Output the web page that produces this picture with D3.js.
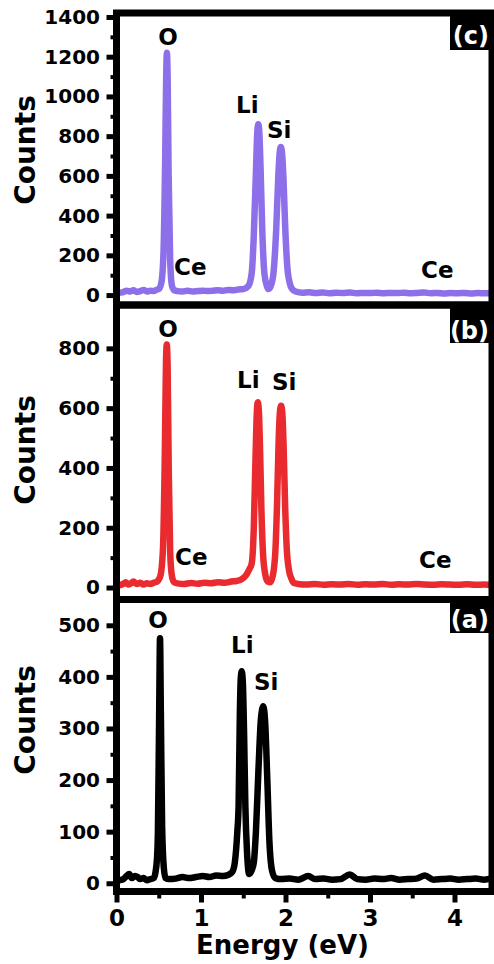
<!DOCTYPE html>
<html>
<head>
<meta charset="utf-8">
<script src="https://cdn.jsdelivr.net/npm/d3@7"></script>
<style>
  body { margin: 0; background: #fff; }
  svg { display: block; font-family: "DejaVu Sans", sans-serif; font-weight: bold; }
</style>
</head>
<body>
<div id="chart"></div>
<script>
// Spectrum (c) - purple
const energyC = [0.00, 0.04, 0.08, 0.12, 0.16, 0.20, 0.24, 0.28, 0.32, 0.36, 0.40, 0.44, 0.48, 0.50, 0.53, 0.555, 0.575, 0.588, 0.596, 0.605, 0.617, 0.635, 0.655, 0.68,
  0.72, 0.78, 0.84, 0.90, 0.96, 1.02, 1.08, 1.14, 1.20, 1.26, 1.32, 1.38, 1.44, 1.50, 1.56, 1.60, 1.625, 1.65, 1.665, 1.678, 1.69, 1.705, 1.725, 1.75, 1.78,
  1.80, 1.83, 1.86, 1.89, 1.915, 1.932, 1.945, 1.96, 1.975, 1.995, 2.02, 2.05, 2.08, 2.12,
  2.20, 2.28, 2.36, 2.44, 2.52, 2.60, 2.68, 2.76, 2.84, 2.92, 3.00, 3.08, 3.16, 3.24, 3.32, 3.40, 3.48, 3.56, 3.64, 3.72, 3.80, 3.88, 3.96, 4.04, 4.12, 4.20, 4.28, 4.36, 4.45];
const countsC = [8, 12, 15, 22, 18, 24, 16, 20, 26, 18, 22, 20, 28, 30, 60, 200, 650, 1100, 1220, 1100, 600, 180, 50, 25,
  20, 18, 22, 18, 20, 22, 20, 22, 24, 22, 26, 24, 28, 30, 45, 110, 300, 620, 810, 860, 820, 640, 330, 110, 45,
  30, 50, 120, 330, 600, 720, 745, 710, 600, 360, 150, 60, 30, 18,
  12, 14, 10, 13, 9, 12, 10, 13, 9, 11, 10, 12, 9, 11, 10, 12, 9, 11, 13, 9, 11, 8, 10, 9, 11, 8, 10, 9, 11];

// Spectrum (b) - red
const energyB = [0.00, 0.04, 0.08, 0.11, 0.14, 0.17, 0.20, 0.24, 0.28, 0.32, 0.36, 0.40, 0.44, 0.48, 0.52, 0.55, 0.572, 0.586, 0.595, 0.605, 0.618, 0.635, 0.655, 0.68,
  0.72, 0.80, 0.88, 0.96, 1.04, 1.12, 1.20, 1.28, 1.36, 1.42, 1.48, 1.53, 1.57, 1.60, 1.625, 1.645, 1.66, 1.672, 1.685, 1.70, 1.715, 1.735, 1.76, 1.79,
  1.82, 1.85, 1.88, 1.90, 1.92, 1.935, 1.948, 1.962, 1.978, 1.995, 2.015, 2.04, 2.07, 2.10,
  2.15, 2.25, 2.35, 2.45, 2.55, 2.65, 2.75, 2.85, 2.95, 3.05, 3.15, 3.25, 3.35, 3.45, 3.55, 3.65, 3.75, 3.85, 3.95, 4.05, 4.15, 4.25, 4.35, 4.45];
const countsB = [5, 8, 12, 18, 10, 14, 20, 12, 16, 10, 14, 12, 16, 20, 40, 130, 450, 760, 813, 740, 400, 120, 40, 18,
  14, 12, 15, 13, 16, 14, 18, 16, 20, 22, 28, 40, 60, 80, 200, 430, 580, 620, 590, 450, 260, 110, 45, 20,
  18, 40, 120, 280, 500, 590, 608, 585, 470, 280, 130, 60, 30, 15,
  12, 10, 12, 9, 11, 10, 12, 9, 11, 10, 12, 9, 11, 10, 12, 10, 9, 11, 10, 9, 11, 9, 10, 8];

// Spectrum (a) - black
const energyA = [0.00, 0.04, 0.08, 0.12, 0.15, 0.18, 0.22, 0.25, 0.28, 0.32, 0.36, 0.40, 0.44, 0.46, 0.48, 0.49, 0.505, 0.515, 0.525, 0.54, 0.56, 0.58,
  0.62, 0.70, 0.78, 0.86, 0.94, 1.02, 1.10, 1.18, 1.26, 1.32, 1.37, 1.40, 1.43, 1.445, 1.46, 1.47, 1.482, 1.495, 1.51, 1.525, 1.545, 1.57,
  1.60, 1.625, 1.65, 1.68, 1.71, 1.737, 1.76, 1.785, 1.81, 1.84, 1.88,
  1.95, 2.05, 2.15, 2.27, 2.35, 2.45, 2.55, 2.65, 2.76, 2.85, 2.95, 3.05, 3.15, 3.25, 3.35, 3.45, 3.55, 3.65, 3.75, 3.85, 3.95, 4.05, 4.15, 4.25, 4.35, 4.45];
const countsA = [4, 6, 8, 14, 18, 10, 14, 12, 8, 10, 6, 8, 10, 20, 50, 100, 330, 475, 330, 110, 30, 10,
  8, 9, 12, 10, 12, 14, 12, 15, 14, 16, 22, 40, 100, 150, 330, 395, 411, 390, 290, 150, 60, 18,
  25, 40, 100, 220, 320, 343, 310, 200, 80, 25, 10,
  8, 9, 7, 14, 8, 9, 7, 8, 17, 8, 7, 9, 8, 10, 7, 8, 9, 15, 7, 8, 9, 7, 8, 9, 7, 10];

const ticksC = [0, 200, 400, 600, 800, 1000, 1200, 1400];
const ticksB = [0, 200, 400, 600, 800];
const ticksA = [0, 100, 200, 300, 400, 500];
const energyTicks = [0, 1, 2, 3, 4];

const panels = [
  { id: "(c)", energy: energyC, counts: countsC, ticks: ticksC, minorStep: 100, domain: [-50, 1420], color: "#8d6fe9",
    top: 13, bottom: 305, box: [10, 50], boxText: 44,
    labels: [["O", 168, 45, "middle"], ["Li", 236, 113, "start"], ["Si", 267, 138, "start"], ["Ce", 174, 275, "start"], ["Ce", 421, 278, "start"]],
    countsY: 150 },
  { id: "(b)", energy: energyB, counts: countsB, ticks: ticksB, minorStep: 100, domain: [-40, 945], color: "#e92a2e",
    top: 305, bottom: 599.5, box: [305, 343], boxText: 339,
    labels: [["O", 168, 337, "middle"], ["Li", 237, 388, "start"], ["Si", 272, 390, "start"], ["Ce", 175, 565, "start"], ["Ce", 419, 568, "start"]],
    countsY: 450 },
  { id: "(a)", energy: energyA, counts: countsA, ticks: ticksA, minorStep: 50, domain: [-16, 550], color: "#000000",
    top: 599.5, bottom: 891.5, box: [599.5, 633], boxText: 628,
    labels: [["O", 158, 628, "middle"], ["Li", 231, 653, "start"], ["Si", 254, 690, "start"]],
    countsY: 720 }
];

const width = 494, height = 964;
const left = 116.5, right = 492;

const svg = d3.select("#chart").append("svg")
  .attr("width", width)
  .attr("height", height);

const x = d3.scaleLinear().domain([0, 4.444]).range([left, right]);

panels.forEach((p, i) => {
  const y = d3.scaleLinear().domain(p.domain).range([p.bottom, p.top]);
  const g = svg.append("g");

  const clipId = "clip" + i;
  svg.append("clipPath").attr("id", clipId)
    .append("rect")
    .attr("x", left).attr("y", p.top)
    .attr("width", right - left).attr("height", p.bottom - p.top);

  // spectrum line
  const line = d3.line()
    .x(d => x(d[0]))
    .y(d => y(d[1]))
    .curve(d3.curveMonotoneX);

  g.append("path")
    .datum(d3.zip(p.energy, p.counts))
    .attr("clip-path", `url(#${clipId})`)
    .attr("fill", "none")
    .attr("stroke", p.color)
    .attr("stroke-width", 6.5)
    .attr("stroke-linejoin", "round")
    .attr("d", line);

  // minor y ticks
  const minor = d3.range(p.minorStep, p.ticks[p.ticks.length - 1], p.minorStep * 2);
  g.append("g")
    .attr("transform", `translate(${left},0)`)
    .call(d3.axisLeft(y).tickValues(minor).tickSize(6).tickFormat(""))
    .call(a => a.select(".domain").remove())
    .call(a => a.selectAll("line").attr("stroke-width", 4));

  // major y ticks
  g.append("g")
    .attr("transform", `translate(${left},0)`)
    .call(d3.axisLeft(y).tickValues(p.ticks).tickSize(10).tickPadding(6.5).tickFormat(d3.format("d")))
    .call(a => a.select(".domain").remove())
    .call(a => a.selectAll("line").attr("stroke-width", 5))
    .call(a => a.selectAll("text")
      .attr("font-family", "DejaVu Sans")
      .attr("font-weight", "bold")
      .attr("font-size", 20)
      .attr("fill", "#000"));

  // frame
  g.append("rect")
    .attr("x", left).attr("y", p.top)
    .attr("width", right - left).attr("height", p.bottom - p.top)
    .attr("fill", "none")
    .attr("stroke", "#000")
    .attr("stroke-width", 7);

  // panel tag
  g.append("rect")
    .attr("x", 450).attr("y", p.box[0])
    .attr("width", width - 450).attr("height", p.box[1] - p.box[0])
    .attr("fill", "#000");
  g.append("text")
    .attr("x", 489).attr("y", p.boxText)
    .attr("text-anchor", "end")
    .attr("fill", "#fff")
    .attr("font-size", 24)
    .text(p.id);

  // element labels
  p.labels.forEach(l => {
    g.append("text")
      .attr("x", l[1]).attr("y", l[2])
      .attr("text-anchor", l[3])
      .attr("font-size", 23)
      .attr("fill", "#000")
      .text(l[0]);
  });

  // y title
  g.append("text")
    .attr("transform", `translate(35,${p.countsY}) rotate(-90)`)
    .attr("text-anchor", "middle")
    .attr("font-size", 28)
    .attr("fill", "#000")
    .text("Counts");

  // x axis on the bottom panel only
  if (i === panels.length - 1) {
    const minorX = d3.range(0.5, 4.5, 1);
    g.append("g")
      .attr("transform", `translate(0,${p.bottom})`)
      .call(d3.axisBottom(x).tickValues(minorX).tickSize(7).tickFormat(""))
      .call(a => a.select(".domain").remove())
      .call(a => a.selectAll("line").attr("stroke-width", 4));
    g.append("g")
      .attr("transform", `translate(0,${p.bottom})`)
      .call(d3.axisBottom(x).tickValues(energyTicks).tickSize(11).tickPadding(7.5).tickFormat(d3.format("d")))
      .call(a => a.select(".domain").remove())
      .call(a => a.selectAll("line").attr("stroke-width", 5))
      .call(a => a.selectAll("text")
        .attr("font-family", "DejaVu Sans")
        .attr("font-weight", "bold")
        .attr("font-size", 23)
        .attr("fill", "#000"));
    // redraw frame bottom edge over the ticks
    g.append("line")
      .attr("x1", left - 3.5).attr("x2", right + 3.5)
      .attr("y1", p.bottom).attr("y2", p.bottom)
      .attr("stroke", "#000").attr("stroke-width", 7);
    g.append("text")
      .attr("x", 282.5).attr("y", 954)
      .attr("text-anchor", "middle")
      .attr("font-size", 26)
      .attr("fill", "#000")
      .text("Energy (eV)");
  }
});
</script>
</body>
</html>
